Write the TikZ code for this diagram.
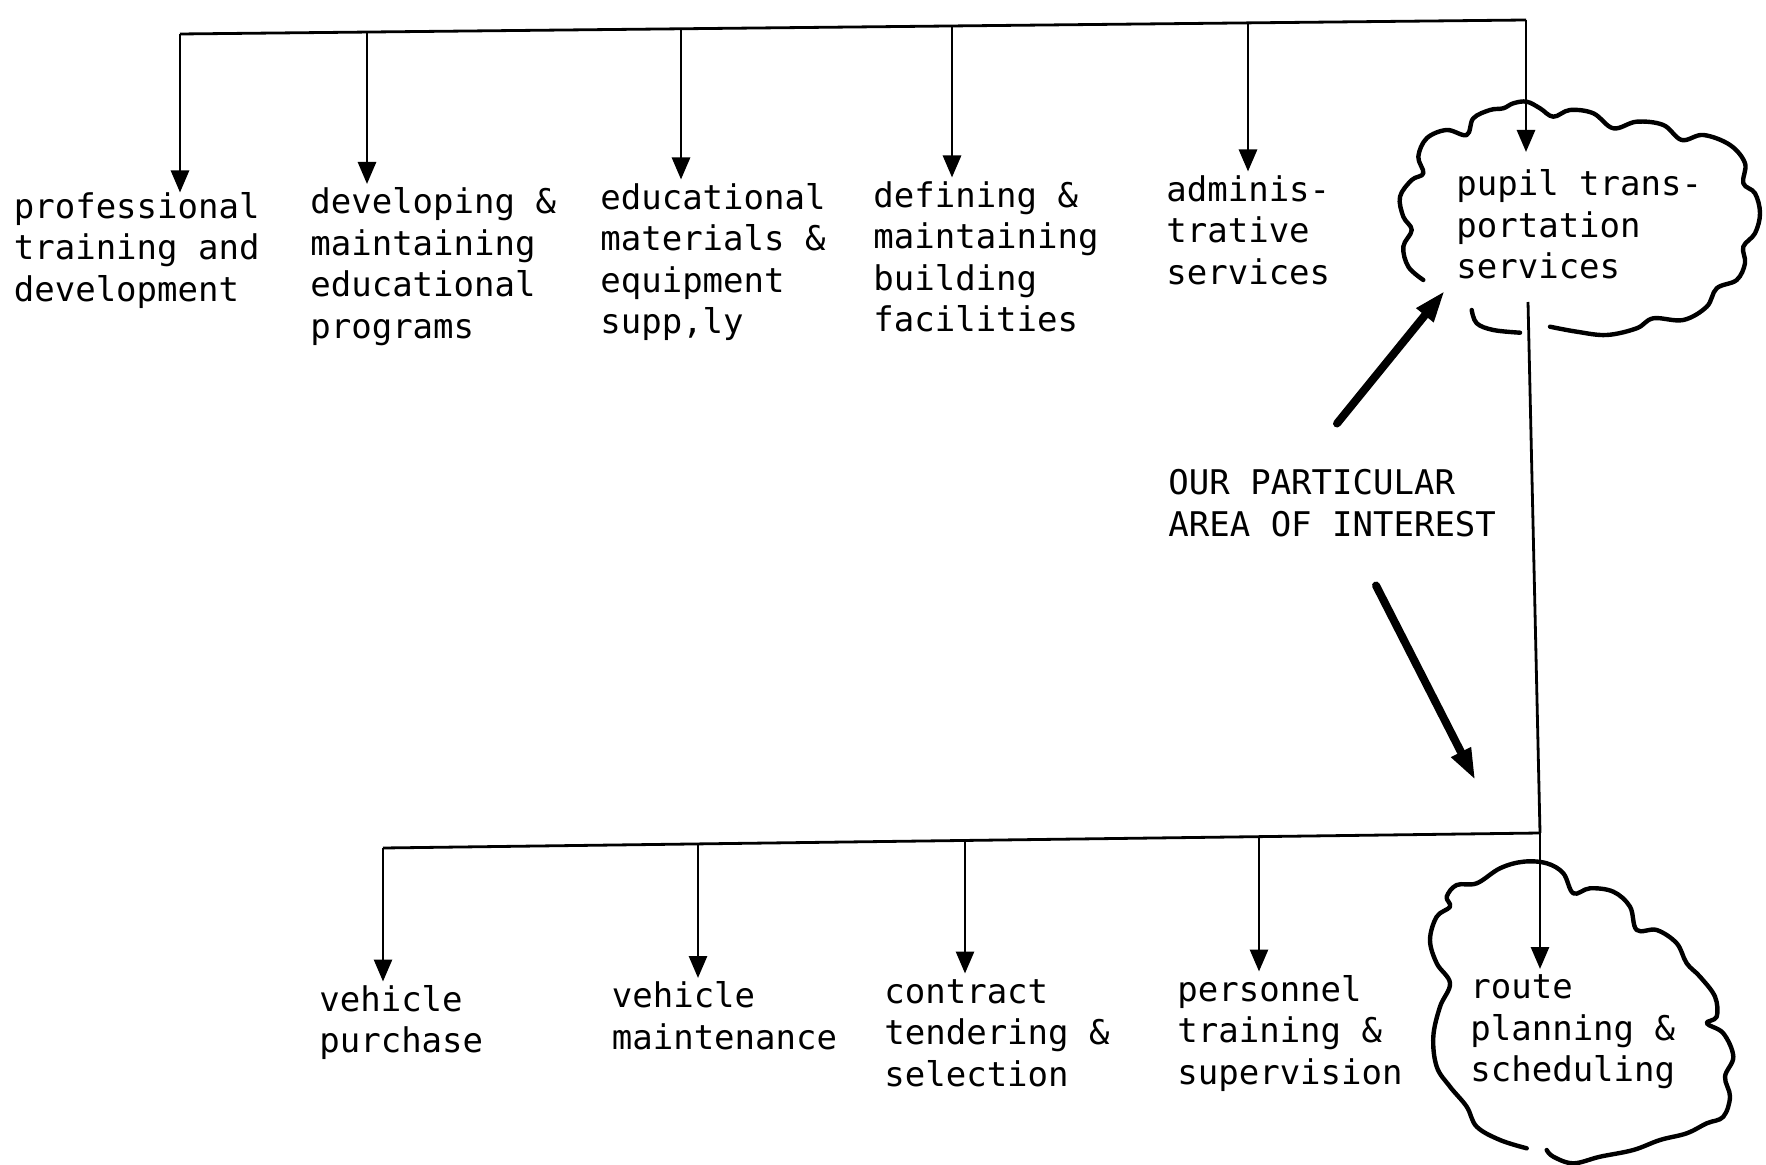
\documentclass[tikz,border=0pt]{standalone}
\usepackage{fontspec}
\newfontfamily\tw{DejaVu Sans Mono}
\usetikzlibrary{arrows.meta}
\begin{document}
\begin{tikzpicture}[x=0.5pt,y=-0.5pt,
  lbl/.style={anchor=north west, align=left, inner sep=0pt, font=\tw\fontsize{17}{20.8}\selectfont},
  conn/.style={line width=1.4pt},
  arr/.style={conn,-{Triangle[length=11pt,width=9pt]}},
  bigarr/.style={line width=4pt, line cap=round, -{Triangle[length=16pt,width=10pt]}},
  cloudline/.style={line width=2.2pt, line cap=round, line join=round}]
\useasboundingbox (0,0) rectangle (1766,1165);

% top level labels
\node[lbl] (p1) at (13.5,188.5) {\strut professional\\training and\\development};
\node[lbl] (p2) at (310,184) {\strut developing \&\\maintaining\\educational\\programs};
\node[lbl] (p3) at (600,179.5) {\strut educational\\materials \&\\equipment\\supp,ly};
\node[lbl] (p4) at (873,177.5) {\strut defining \&\\maintaining\\building\\facilities};
\node[lbl] (p5) at (1166,171.5) {\strut adminis-\\trative\\services};
\node[lbl] (p6) at (1456,166) {\strut pupil trans-\\portation\\services};

\node[lbl] (note) at (1168,465) {\strut OUR PARTICULAR\\AREA OF INTEREST};

% bottom level labels
\node[lbl] (q1) at (319,981.5) {\strut vehicle\\purchase};
\node[lbl] (q2) at (611.5,978) {\strut vehicle\\maintenance};
\node[lbl] (q3) at (884,973.5) {\strut contract\\tendering \&\\selection};
\node[lbl] (q4) at (1177,971.5) {\strut personnel\\training \&\\supervision};
\node[lbl] (q5) at (1470,969) {\strut route\\planning \&\\scheduling};

% top bus
\coordinate (b1) at (180,34);
\coordinate (b2) at (367,32.1);
\coordinate (b3) at (681,28.8);
\coordinate (b4) at (952,26);
\coordinate (b5) at (1248,22.9);
\coordinate (b6) at (1526,20);
\draw[conn] (b1) -- (b6);
\draw[arr, shorten >=-2pt] (b1) -- (b1 |- p1.north);
\draw[arr] (b2) -- (b2 |- p2.north);
\draw[arr] (b3) -- (b3 |- p3.north);
\draw[arr] (b4) -- (b4 |- p4.north);
\draw[arr] (b5) -- (b5 |- p5.north);
\draw[arr, shorten >=7pt] (b6) -- (b6 |- p6.north);

% down line and bottom bus
\coordinate (c1out) at (1528,302);
\coordinate (j) at (1540,833);
\coordinate (d1) at (383,848);
\coordinate (d2) at (698,843.9);
\coordinate (d3) at (965,840.5);
\coordinate (d4) at (1259,836.7);
\draw[conn] (c1out) -- (j);
\draw[conn] (d1) -- (j);
\draw[arr] (d1) -- (d1 |- q1.north);
\draw[arr] (d2) -- (d2 |- q2.north);
\draw[arr] (d3) -- (d3 |- q3.north);
\draw[arr] (d4) -- (d4 |- q4.north);
\draw[arr] (j) -- (j |- q5.north);

% thick arrows
\coordinate (n1) at (1337,423.5);
\coordinate (n1t) at (1445,290.5);
\coordinate (n2) at (1376,585.5);
\coordinate (n2t) at (1475.5,780.5);
\draw[bigarr] (n1) -- (n1t);
\draw[bigarr] (n2) -- (n2t);

% cloud around pupil transportation services
\draw[cloudline] plot[smooth, tension=0.6] coordinates {
(1423.3,280) (1408.3,266.7) (1403.3,246.7) (1411.7,230) (1403.3,216.7)
(1400,196.7) (1411.7,180) (1423.3,173.3) (1418.3,156.7) (1426.7,138.3)
(1446.7,130) (1466.7,135) (1473.3,118.3) (1490,110) (1503.3,108.3)
(1513.3,103.3) (1526.7,101.7) (1540,108.3) (1553.3,116.7) (1570,110)
(1593.3,113.3) (1613.3,128.3) (1636.7,121.7) (1663.3,125) (1681.7,140)
(1703.3,135) (1730,145) (1745,163.3) (1743.3,183.3) (1755,193.3)
(1760,213.3) (1755,233.3) (1743.3,246.7) (1745,263.3) (1736.7,280)
(1716.7,288.3) (1706.7,306.7) (1683.3,320) (1653.3,318.3) (1636.7,328.3)
(1606.7,335) (1576.7,331.7) (1550,326.7)};
\draw[cloudline] plot[smooth, tension=0.6] coordinates {
(1471.7,310) (1476.7,323.3) (1493.3,330) (1520,332.7)};

% cloud around route planning & scheduling
\draw[cloudline] plot[smooth, tension=0.6] coordinates {
(1526.7,1148.3) (1500,1140) (1476.7,1126.7) (1466.7,1106.7) (1450,1086.7)
(1436.7,1066.7) (1433.3,1036.7) (1440,1006.7) (1450,983.3) (1436.7,963.3)
(1430,940) (1436.7,916.7) (1450,906.7) (1446.7,896.7) (1456.7,885)
(1476.7,883.3) (1500,868.3) (1523.3,861.7) (1546.7,863.3) (1563.3,873.3)
(1573.3,893.3) (1590,888.3) (1613.3,891.7) (1630,906.7) (1636.7,930)
(1656.7,930) (1676.7,943.3) (1686.7,963.3) (1700,976.7) (1715,996.7)
(1716.7,1016.7) (1706.7,1023.3) (1723.3,1033.3) (1733.3,1056.7) (1725,1076.7)
(1730,1096.7) (1723.3,1116.7) (1706.7,1123.3) (1686.7,1133.3) (1660,1140)
(1633.3,1150) (1600,1156.7) (1573.3,1163.3) (1553.3,1156.7) (1546.7,1150)};
\end{tikzpicture}
\end{document}
